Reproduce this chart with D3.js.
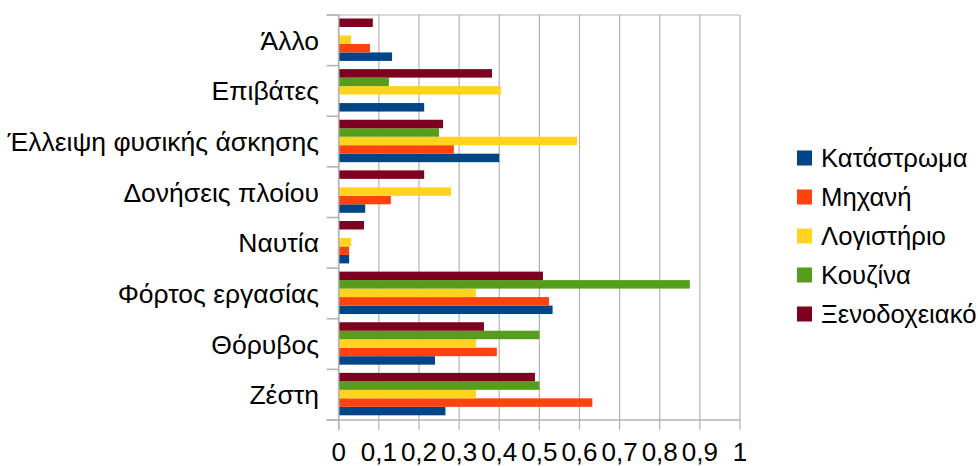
<!DOCTYPE html>
<html>
<head>
<meta charset="utf-8">
<script src="https://cdn.jsdelivr.net/npm/d3@7/dist/d3.min.js"></script>
<style>
  html, body { margin: 0; padding: 0; background: #fff; }
  svg { display: block; font-family: "Liberation Sans", Arial, sans-serif; }
</style>
</head>
<body>
<svg id="chart" width="978" height="466"></svg>
<script>
// Categories, listed top to bottom as they appear on the axis
const categories = ["Άλλο", "Επιβάτες", "Έλλειψη φυσικής άσκησης", "Δονήσεις πλοίου",
  "Ναυτία", "Φόρτος εργασίας", "Θόρυβος", "Ζέστη"];

// Series (departments) and their values per category (same order as categories)
const series = ["Κατάστρωμα", "Μηχανή", "Λογιστήριο", "Κουζίνα", "Ξενοδοχειακό"];
const katastroma  = [0.133, 0.213, 0.400, 0.066, 0.026, 0.533, 0.240, 0.266];
const michani     = [0.078, 0,     0.287, 0.130, 0.026, 0.524, 0.394, 0.632];
const logistirio  = [0.031, 0.404, 0.594, 0.280, 0.031, 0.342, 0.342, 0.342];
const kouzina     = [0,     0.125, 0.250, 0,     0,     0.875, 0.500, 0.500];
const xenodoxeiako= [0.085, 0.382, 0.260, 0.213, 0.063, 0.509, 0.362, 0.489];
const seriesValues = [katastroma, michani, logistirio, kouzina, xenodoxeiako];
const colors = ["#004586", "#ff420e", "#ffd320", "#579d1c", "#7e0021"];

const xTicks = [0, 0.1, 0.2, 0.3, 0.4, 0.5, 0.6, 0.7, 0.8, 0.9, 1];
const fmt = v => String(v).replace(".", ",");

const svg = d3.select("#chart");
const plot = { left: 338.7, right: 740, top: 15, bottom: 420 };

const x = d3.scaleLinear().domain([0, 1]).range([plot.left, plot.right]);
const y0 = d3.scaleBand().domain(categories).range([plot.top, plot.bottom]);
// first series sits at the bottom of each group
const y1 = d3.scaleBand().domain(series.slice().reverse())
  .range([3.5, y0.bandwidth() - 4.7]);

const gridColor = "#b3b3b3";

// vertical gridlines
svg.append("g").selectAll("line").data(xTicks).join("line")
  .attr("x1", d => x(d)).attr("x2", d => x(d))
  .attr("y1", plot.top).attr("y2", plot.bottom + 10)
  .attr("stroke", gridColor).attr("stroke-width", 1.2);

// top frame line
svg.append("line")
  .attr("x1", plot.left - 12).attr("x2", plot.right)
  .attr("y1", plot.top).attr("y2", plot.top)
  .attr("stroke", gridColor).attr("stroke-width", 1.2);

// bars
const rows = categories.map((c, i) => ({ c, vals: series.map((s, j) => ({ s, v: seriesValues[j][i], color: colors[j] })) }));
const groups = svg.append("g").selectAll("g").data(rows).join("g")
  .attr("transform", d => `translate(0,${y0(d.c)})`);
groups.selectAll("rect").data(d => d.vals.filter(e => e.v > 0)).join("rect")
  .attr("x", x(0))
  .attr("y", d => y1(d.s))
  .attr("width", d => x(d.v) - x(0))
  .attr("height", y1.bandwidth())
  .attr("fill", d => d.color);

// y axis: line + ticks at category boundaries
const yBounds = categories.map(c => y0(c)).concat([plot.bottom]);
svg.append("line")
  .attr("x1", plot.left).attr("x2", plot.left)
  .attr("y1", plot.top).attr("y2", plot.bottom + 10)
  .attr("stroke", gridColor).attr("stroke-width", 1.6);
svg.append("g").selectAll("line").data(yBounds).join("line")
  .attr("x1", plot.left - 12).attr("x2", plot.left)
  .attr("y1", d => d).attr("y2", d => d)
  .attr("stroke", gridColor).attr("stroke-width", 1.6);

// x axis line
svg.append("line")
  .attr("x1", plot.left - 12).attr("x2", plot.right)
  .attr("y1", plot.bottom).attr("y2", plot.bottom)
  .attr("stroke", gridColor).attr("stroke-width", 1.6);

// category labels
svg.append("g").selectAll("text").data(categories).join("text")
  .attr("x", 319)
  .attr("y", d => y0(d) + y0.bandwidth() / 2)
  .attr("dy", "0.36em")
  .attr("text-anchor", "end")
  .attr("font-size", 26.5)
  .attr("fill", "#000")
  .text(d => d);

// x tick labels
svg.append("g").selectAll("text").data(xTicks).join("text")
  .attr("x", d => x(d))
  .attr("y", 461)
  .attr("text-anchor", "middle")
  .attr("font-size", 26)
  .attr("fill", "#000")
  .text(d => fmt(d));

// legend
const legend = svg.append("g").selectAll("g").data(series).join("g")
  .attr("transform", (d, i) => `translate(797,${158 + i * 39})`);
legend.append("rect")
  .attr("x", 0).attr("y", -7.5).attr("width", 15).attr("height", 15)
  .attr("fill", (d, i) => colors[i]);
legend.append("text")
  .attr("x", 24).attr("y", 0).attr("dy", "0.36em")
  .attr("font-size", 25.7)
  .attr("fill", "#000")
  .text(d => d);
</script>
</body>
</html>
